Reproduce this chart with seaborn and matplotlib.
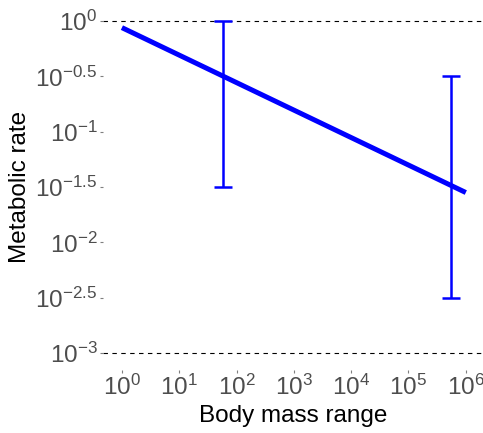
import numpy as np
import pandas as pd
import matplotlib
matplotlib.use("Agg")
import matplotlib.pyplot as plt
import seaborn as sns
from matplotlib.ticker import FixedLocator, FixedFormatter, NullLocator

# Scaling line (mass vs rate, log-log)
line_mass = [1.0, 1e6]
line_rate = [10 ** -0.06, 10 ** -1.55]

# Error bars: position, centre, lower and upper bound
err_mass = [10 ** 1.77, 10 ** 5.74]
err_center = [10 ** -0.5, 10 ** -1.5]
err_low = [10 ** -1.5, 10 ** -2.5]
err_high = [10 ** 0.0, 10 ** -0.5]

# Reference bounds drawn as dashed lines
bound_rates = [1.0, 1e-3]

# Tick positions (log10) and labels
x_tick_exps = [0, 1, 2, 3, 4, 5, 6]
x_tick_labels = ["0", "1", "2", "3", "4", "5", "6"]
y_tick_exps = [0, -0.5, -1, -1.5, -2, -2.5, -3]
y_tick_labels = ["0", "\u22120.5", "\u22121", "\u22121.5", "\u22122", "\u22122.5", "\u22123"]

sns.set_theme(style="white")
plt.rcParams["font.family"] = ["Liberation Sans", "DejaVu Sans"]
plt.rcParams["mathtext.fontset"] = "custom"
plt.rcParams["mathtext.rm"] = "Liberation Sans"
plt.rcParams["mathtext.it"] = "Liberation Sans:italic"
plt.rcParams["mathtext.bf"] = "Liberation Sans:bold"
plt.rcParams["axes.unicode_minus"] = True

fig = plt.figure(figsize=(4.83, 4.33), dpi=100)
ax = fig.add_axes([103 / 483, 1 - 369.6 / 433, 1 - 103 / 483, (369.6 - 4.4) / 433])

df_line = pd.DataFrame({"mass": line_mass, "rate": line_rate})
sns.lineplot(data=df_line, x="mass", y="rate", ax=ax, color="#0000FF",
             linewidth=3.6, solid_capstyle="butt")

yerr = np.array([np.array(err_center) - np.array(err_low),
                 np.array(err_high) - np.array(err_center)])
ax.errorbar(err_mass, err_center, yerr=yerr, fmt="none", ecolor="#0000FF",
            elinewidth=1.8, capsize=6.8, capthick=1.8)

for r in bound_rates:
    ax.axhline(r, color="black", linewidth=0.8, linestyle=(0, (4, 4)), zorder=0)

ax.set_xscale("log")
ax.set_yscale("log")
ax.set_xlim(10 ** -0.33, 10 ** 6.3)
ax.set_ylim(10 ** -3.15, 10 ** 0.15)

ax.xaxis.set_major_locator(FixedLocator([10.0 ** e for e in x_tick_exps]))
ax.xaxis.set_major_formatter(FixedFormatter([r"$\mathregular{10^{%s}}$" % t for t in x_tick_labels]))
ax.xaxis.set_minor_locator(NullLocator())
ax.yaxis.set_major_locator(FixedLocator([10.0 ** e for e in y_tick_exps]))
ax.yaxis.set_major_formatter(FixedFormatter([r"$\mathregular{10^{%s}}$" % t for t in y_tick_labels]))
ax.yaxis.set_minor_locator(NullLocator())

for s in ax.spines.values():
    s.set_visible(False)

ax.tick_params(axis="both", which="major", direction="out", length=2.5, width=0.8,
               color="#7f7f7f", labelcolor="#4d4d4d", labelsize=17.5, pad=1.5,
               bottom=True, left=True)

ax.set_xlabel("Body mass range", fontsize=17.5, color="black", labelpad=3)
ax.set_ylabel("Metabolic rate", fontsize=17.5, color="black", labelpad=3)

fig.savefig("out.png", dpi=100)
